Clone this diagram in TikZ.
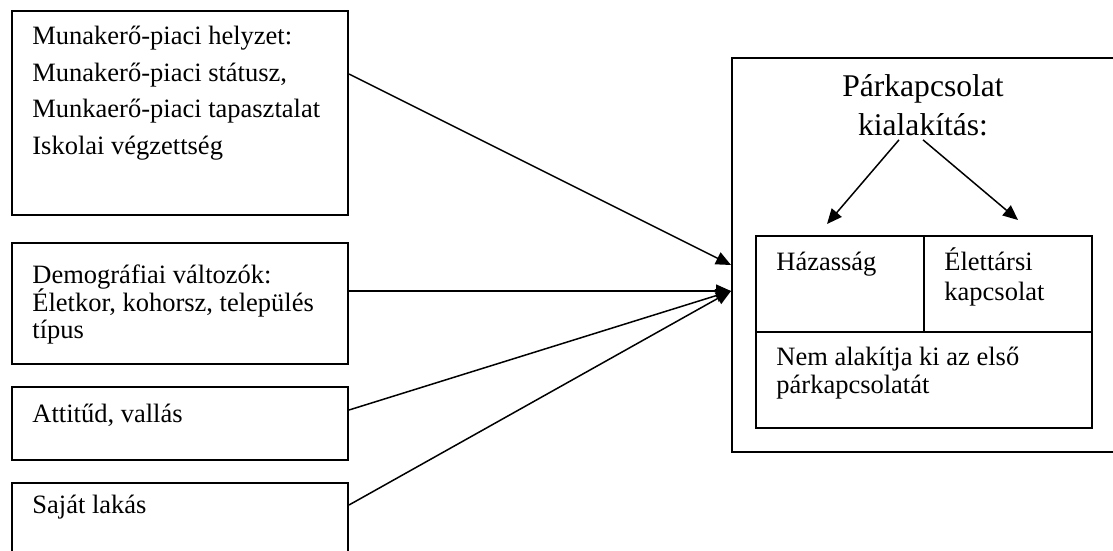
\documentclass[tikz,border=0pt]{standalone}
\usepackage{fontspec}
\setmainfont{Liberation Serif}
\usetikzlibrary{arrows.meta,calc}
\begin{document}
\begin{tikzpicture}[x=0.5pt,y=-0.5pt,
  box/.style={draw,line width=1pt,inner sep=0,anchor=north west,minimum width=168pt},
  txt/.style={anchor=base west,inner sep=0,font=\fontsize{13.25}{15}\selectfont},
  ttl/.style={anchor=base,inner sep=0,font=\fontsize{15.8}{18}\selectfont},
  arr/.style={line width=0.75pt,-{Triangle[length=7.5pt,width=6.5pt]}}]
\useasboundingbox (0,0) rectangle (1113,551);
\clip (0,0) rectangle (1113,551);
% left boxes
\node[box,minimum height=102pt] (b1) at (11,10) {};
\node[box,minimum height=60.5pt] (b2) at (11,242) {};
\node[box,minimum height=36.5pt] (b3) at (11,386) {};
\node[box,minimum height=44pt] (b4) at (11,482) {};
\node[txt] (t11) at (32,45) {Munakerő-piaci helyzet:};
\node[txt] (t12) at (32,82) {Munakerő-piaci státusz,};
\node[txt] (t13) at (32,118) {Munkaerő-piaci tapasztalat};
\node[txt] (t14) at (32,155) {Iskolai végzettség};
\node[txt] (t21) at (32,283) {Demográfiai változók:};
\node[txt] (t22) at (32,311) {Életkor, kohorsz, település};
\node[txt] (t23) at (32,338) {típus};
\node[txt] (t31) at (32,422) {Attitűd, vallás};
\node[txt] (t41) at (32,513) {Saját lakás};
% right box
\node[box,minimum width=199.5pt,minimum height=197pt] (big) at (731,57) {};
\node[ttl] (p1) at (923,97) {Párkapcsolat};
\node[ttl] (p2) at (923,135) {kialakítás:};
\node[box,minimum width=84pt,minimum height=48pt] (haz) at (755,235) {};
\node[box,minimum width=84pt,minimum height=48pt] (elet) at (923,235) {};
\node[box,minimum width=168pt,minimum height=48pt] (nem) at (755,331) {};
\node[txt] (h1) at (776,270) {Házasság};
\node[txt] (e1) at (944,270) {Élettársi};
\node[txt] (e2) at (944,300) {kapcsolat};
\node[txt] (n1) at (776,365) {Nem alakítja ki az első};
\node[txt] (n2) at (776,393) {párkapcsolatát};
% connector heights
\coordinate (s1) at (0,74);
\coordinate (s2) at (0,291);
\coordinate (s3) at (0,410);
\coordinate (s4) at (0,505);
\coordinate (e1y) at (0,265);
\coordinate (e2y) at (0,291);
\draw[arr] (b1.east |- s1) -- (big.west |- e1y);
\draw[arr] (b2.east |- s2) -- (big.west |- e2y);
\draw[arr] (b3.east |- s3) -- (big.west |- e2y);
\draw[arr] (b4.east |- s4) -- (big.west |- e2y);
% inner arrows
\coordinate (k1) at (827,224);
\coordinate (k2) at (1018,220);
\draw[arr] ($(p2.south)+(-24,4)$) -- (k1);
\draw[arr] ($(p2.south)+(0,4)$) -- (k2);
\end{tikzpicture}
\end{document}
